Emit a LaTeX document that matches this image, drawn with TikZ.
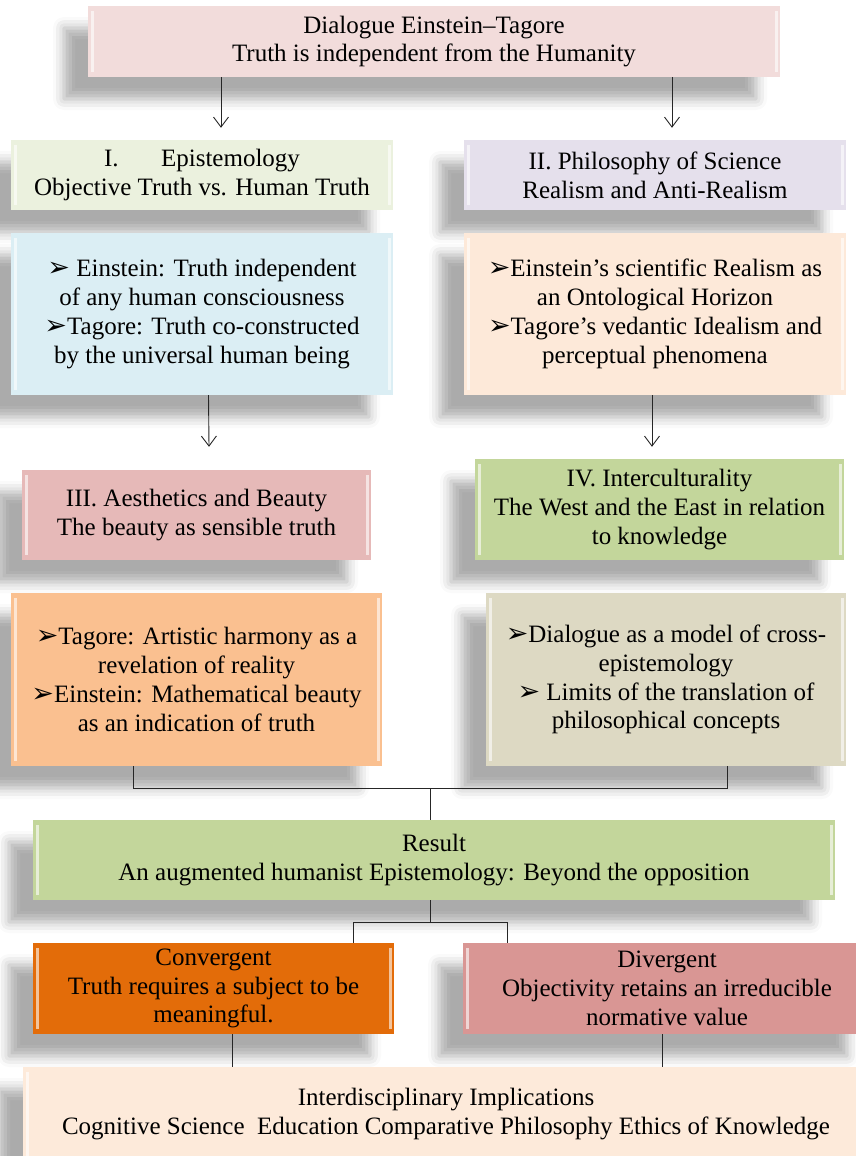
\documentclass[tikz,border=0pt]{standalone}
\usepackage{fontspec}
\setmainfont{Liberation Serif}
\newfontfamily\dingfont{DejaVu Sans}
\usetikzlibrary{arrows.meta,shadows.blur}

\definecolor{headpink}{HTML}{F2DCDB}
\definecolor{epistgreen}{HTML}{EBF1DE}
\definecolor{philolav}{HTML}{E5E0EC}
\definecolor{epistblue}{HTML}{DBEEF4}
\definecolor{philopeach}{HTML}{FDE9D9}
\definecolor{aesthrose}{HTML}{E6B9B8}
\definecolor{intergreen}{HTML}{C3D69B}
\definecolor{aesthorange}{HTML}{FAC090}
\definecolor{intertan}{HTML}{DDD9C3}
\definecolor{convorange}{HTML}{E36C09}
\definecolor{divrose}{HTML}{D99694}
\definecolor{implpeach}{HTML}{FDEADA}

\newcommand{\bul}{{\dingfont\fontsize{27}{27}\selectfont\char"27A2}}

\tikzset{
	box/.style={rectangle, inner sep=0pt, align=center,
		font=\fontsize{25}{28.8}\selectfont,
		blur shadow={shadow xshift=-24pt, shadow yshift=-22pt,
			shadow blur radius=11pt, shadow opacity=33},
		path picture={
			\draw[white, line width=3pt, opacity=.6]
				([xshift=4pt,yshift=-5pt]path picture bounding box.north west) --
				([xshift=4pt,yshift=5pt]path picture bounding box.south west);
			\draw[white, line width=3pt, opacity=.6]
				([xshift=-4pt,yshift=-5pt]path picture bounding box.north east) --
				([xshift=-4pt,yshift=5pt]path picture bounding box.south east);
		}},
	link/.style={line width=0.9pt, black!85},
	arr/.style={link, -{Straight Barb[length=10pt,width=15pt]}},
}

\begin{document}
\begin{tikzpicture}[x=1pt, y=-1pt]
	\useasboundingbox (0,0) rectangle (856,1156);
	\clip (0,0) rectangle (856,1156);

	%title
	\node (head) at (434,41.5) [box, fill=headpink, minimum width=692pt, minimum height=71pt]
		{Dialogue Einstein--Tagore\\Truth is independent from the Humanity};

	%first level
	\node (epist) at (202,175) [box, fill=epistgreen, minimum width=382pt, minimum height=70pt]
		{I.\hspace{1.7em}Epistemology\\Objective Truth vs. Human Truth};
	\node (philo) at (655,175) [box, fill=philolav, minimum width=382pt, minimum height=70pt]
		{II. Philosophy of Science\\Realism and Anti-Realism};

	\node (epistpts) at (202,314) [box, fill=epistblue, minimum width=382pt, minimum height=162pt]
		{\bul\ Einstein: Truth independent\\of any human consciousness\\
		 \bul Tagore: Truth co-constructed\\by the universal human being};
	\node (philopts) at (655,314) [box, fill=philopeach, minimum width=382pt, minimum height=162pt]
		{\bul Einstein’s scientific Realism as\\an Ontological Horizon\\
		 \bul Tagore’s vedantic Idealism and\\perceptual phenomena};

	%second level
	\node (aesth) at (196.5,515) [box, fill=aesthrose, minimum width=349pt, minimum height=90pt]
		{III. Aesthetics and Beauty\\The beauty as sensible truth};
	\node (intercult) at (659.5,509.5) [box, fill=intergreen, minimum width=369pt, minimum height=101pt]
		{IV. Interculturality\\The West and the East in relation\\to knowledge};

	\node (aesthpts) at (196.5,679.5) [box, fill=aesthorange, minimum width=371pt, minimum height=173pt]
		{\bul Tagore: Artistic harmony as a\\revelation of reality\\
		 \bul Einstein: Mathematical beauty\\as an indication of truth};
	\node (interpts) at (666,679.5) [box, fill=intertan, minimum width=360pt, minimum height=173pt]
		{\bul Dialogue as a model of cross-\\epistemology\\
		 \bul\ Limits of the translation of\\philosophical concepts};

	%result
	\node (result) at (434,860) [box, fill=intergreen, minimum width=802pt, minimum height=80pt]
		{Result\\An augmented humanist Epistemology: Beyond the opposition};

	\node (conv) at (213.5,988.5) [box, fill=convorange, minimum width=361pt, minimum height=91pt]
		{Convergent\\Truth requires a subject to be\\meaningful.};
	\node (div) at (667,988.5) [box, fill=divrose, minimum width=408pt, minimum height=91pt]
		{Divergent\\Objectivity retains an irreducible\\normative value};

	\node (impl) at (446,1114) [box, fill=implpeach, minimum width=846pt, minimum height=94pt]
		{Interdisciplinary Implications\\Cognitive Science~ Education Comparative Philosophy Ethics of Knowledge};

	%arrows
	\draw[arr] ([xshift=-213pt]head.south) -- ([xshift=19pt,yshift=12pt]epist.north);
	\draw[arr] ([xshift=238pt]head.south) -- ([xshift=17pt,yshift=12pt]philo.north);
	\draw[arr] ([xshift=6.5pt]epistpts.south) -- ([xshift=12.5pt,yshift=23pt]aesth.north);
	\draw[arr] ([xshift=-3pt]philopts.south) -- ([xshift=-7.5pt,yshift=12pt]intercult.north);

	%brackets
	\coordinate (join) at (430,788);
	\coordinate (split) at (430,922);
	\draw[link] ([xshift=-63.5pt]aesthpts.south) -- ++(0,22) -| ([xshift=61pt]interpts.south);
	\draw[link] (join) -- (join |- result.north);
	\draw[link] (split |- result.south) -- (split);
	\draw[link] ([xshift=139.5pt]conv.north) |- (split) -| ([xshift=-160pt]div.north);
	\draw[link] ([xshift=18.5pt]conv.south) -- ([xshift=-214pt]impl.north);
	\draw[link] ([xshift=-5pt]div.south) -- ([xshift=216pt]impl.north);
\end{tikzpicture}
\end{document}
